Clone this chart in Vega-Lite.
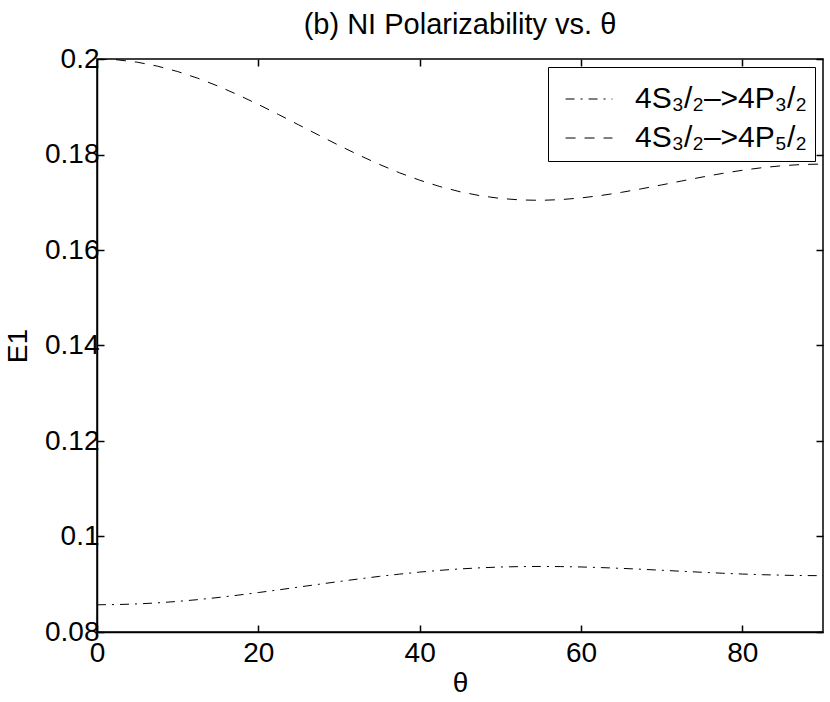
{
  "$schema": "https://vega.github.io/schema/vega-lite/v6.json",
  "width": 726,
  "height": 573,
  "autosize": {"type": "none"},
  "padding": {"left": 97, "top": 59, "right": 7, "bottom": 70},
  "background": "white",
  "title": {"text": "(b) NI Polarizability vs. θ", "font": "Liberation Sans", "fontSize": 29, "fontWeight": "normal", "color": "black", "anchor": "middle", "baseline": "alphabetic", "offset": -18, "frame": "group"},
  "datasets": {
    "curves": [
      {"series": "P32", "theta": 0, "E1": 0.0857}, {"series": "P32", "theta": 2.5, "E1": 0.08575}, {"series": "P32", "theta": 5, "E1": 0.08588}, {"series": "P32", "theta": 7.5, "E1": 0.0861}, {"series": "P32", "theta": 10, "E1": 0.08641}, {"series": "P32", "theta": 12.5, "E1": 0.08678}, {"series": "P32", "theta": 15, "E1": 0.08722}, {"series": "P32", "theta": 17.5, "E1": 0.08772}, {"series": "P32", "theta": 20, "E1": 0.08826}, {"series": "P32", "theta": 22.5, "E1": 0.08882}, {"series": "P32", "theta": 25, "E1": 0.08941}, {"series": "P32", "theta": 27.5, "E1": 0.08999}, {"series": "P32", "theta": 30, "E1": 0.09057}, {"series": "P32", "theta": 32.5, "E1": 0.09112}, {"series": "P32", "theta": 35, "E1": 0.09165}, {"series": "P32", "theta": 37.5, "E1": 0.09212}, {"series": "P32", "theta": 40, "E1": 0.09255}, {"series": "P32", "theta": 42.5, "E1": 0.09291}, {"series": "P32", "theta": 45, "E1": 0.09321}, {"series": "P32", "theta": 47.5, "E1": 0.09344}, {"series": "P32", "theta": 50, "E1": 0.09361}, {"series": "P32", "theta": 52.5, "E1": 0.0937}, {"series": "P32", "theta": 55, "E1": 0.09373}, {"series": "P32", "theta": 57.5, "E1": 0.0937}, {"series": "P32", "theta": 60, "E1": 0.09362}, {"series": "P32", "theta": 62.5, "E1": 0.09349}, {"series": "P32", "theta": 65, "E1": 0.09333}, {"series": "P32", "theta": 67.5, "E1": 0.09314}, {"series": "P32", "theta": 70, "E1": 0.09293}, {"series": "P32", "theta": 72.5, "E1": 0.09272}, {"series": "P32", "theta": 75, "E1": 0.09251}, {"series": "P32", "theta": 77.5, "E1": 0.09231}, {"series": "P32", "theta": 80, "E1": 0.09214}, {"series": "P32", "theta": 82.5, "E1": 0.092}, {"series": "P32", "theta": 85, "E1": 0.09189}, {"series": "P32", "theta": 87.5, "E1": 0.09182}, {"series": "P32", "theta": 90, "E1": 0.0918},
      {"series": "P52", "theta": 0, "E1": 0.2}, {"series": "P52", "theta": 2.5, "E1": 0.19983}, {"series": "P52", "theta": 5, "E1": 0.19933}, {"series": "P52", "theta": 7.5, "E1": 0.1985}, {"series": "P52", "theta": 10, "E1": 0.19737}, {"series": "P52", "theta": 12.5, "E1": 0.19597}, {"series": "P52", "theta": 15, "E1": 0.19433}, {"series": "P52", "theta": 17.5, "E1": 0.19248}, {"series": "P52", "theta": 20, "E1": 0.19048}, {"series": "P52", "theta": 22.5, "E1": 0.18838}, {"series": "P52", "theta": 25, "E1": 0.18621}, {"series": "P52", "theta": 27.5, "E1": 0.18404}, {"series": "P52", "theta": 30, "E1": 0.1819}, {"series": "P52", "theta": 32.5, "E1": 0.17985}, {"series": "P52", "theta": 35, "E1": 0.17793}, {"series": "P52", "theta": 37.5, "E1": 0.17617}, {"series": "P52", "theta": 40, "E1": 0.17462}, {"series": "P52", "theta": 42.5, "E1": 0.17329}, {"series": "P52", "theta": 45, "E1": 0.1722}, {"series": "P52", "theta": 47.5, "E1": 0.17137}, {"series": "P52", "theta": 50, "E1": 0.1708}, {"series": "P52", "theta": 52.5, "E1": 0.17048}, {"series": "P52", "theta": 55, "E1": 0.1704}, {"series": "P52", "theta": 57.5, "E1": 0.17055}, {"series": "P52", "theta": 60, "E1": 0.1709}, {"series": "P52", "theta": 62.5, "E1": 0.17142}, {"series": "P52", "theta": 65, "E1": 0.17207}, {"series": "P52", "theta": 67.5, "E1": 0.17282}, {"series": "P52", "theta": 70, "E1": 0.17363}, {"series": "P52", "theta": 72.5, "E1": 0.17446}, {"series": "P52", "theta": 75, "E1": 0.17527}, {"series": "P52", "theta": 77.5, "E1": 0.17603}, {"series": "P52", "theta": 80, "E1": 0.1767}, {"series": "P52", "theta": 82.5, "E1": 0.17725}, {"series": "P52", "theta": 85, "E1": 0.17766}, {"series": "P52", "theta": 87.5, "E1": 0.17791}, {"series": "P52", "theta": 90, "E1": 0.178}
    ]
  },
  "data": {"name": "curves"},
  "layer": [
    {
      "mark": {"type": "line", "color": "black", "strokeWidth": 1, "clip": true},
      "encoding": {
        "x": {"field": "theta", "type": "quantitative", "scale": {"domain": [0, 90], "nice": false, "zero": false},
              "axis": {"orient": "bottom", "values": [0, 20, 40, 60, 80], "title": "θ", "labelPadding": 14, "titlePadding": 2}},
        "y": {"field": "E1", "type": "quantitative", "scale": {"domain": [0.08, 0.2], "nice": false, "zero": false},
              "axis": {"orient": "left", "values": [0.08, 0.1, 0.12, 0.14, 0.16, 0.18, 0.2], "format": "~g", "title": "E1", "labelPadding": 5, "titlePadding": 12}},
        "strokeDash": {"field": "series", "type": "nominal",
              "scale": {"domain": ["P32", "P52"], "range": [[9, 6, 2, 6], [10, 9]]},
              "legend": {"orient": "none", "legendX": 451, "legendY": 8, "title": null,
                         "labelExpr": "datum.label == 'P32' ? '4S₃/₂–>4P₃/₂\u00a0' : '4S₃/₂–>4P₅/₂\u00a0'"}}
      }
    },
    {
      "mark": {"type": "point", "opacity": 0},
      "encoding": {
        "x": {"field": "theta", "type": "quantitative", "axis": {"orient": "top", "values": [0, 20, 40, 60, 80], "labels": false, "title": null, "domain": false}},
        "y": {"field": "E1", "type": "quantitative", "axis": {"orient": "right", "values": [0.08, 0.1, 0.12, 0.14, 0.16, 0.18, 0.2], "labels": false, "title": null, "domain": false}}
      }
    }
  ],
  "config": {
    "view": {"stroke": "black", "strokeWidth": 1.5},
    "axis": {
      "grid": false,
      "labelFont": "Liberation Sans", "labelFontSize": 28, "labelColor": "black",
      "titleFont": "Liberation Sans", "titleFontSize": 28, "titleFontWeight": "normal", "titleColor": "black",
      "tickColor": "black", "tickSize": -7, "tickWidth": 1.5,
      "domainColor": "black", "domainWidth": 1.5,
      "labelFlush": false, "labelOverlap": false
    },
    "legend": {
      "labelFont": "Liberation Sans", "labelFontSize": 30, "labelColor": "black", "labelLimit": 400,
      "symbolType": "stroke", "symbolSize": 2200, "symbolStrokeWidth": 1, "symbolStrokeColor": "black", "symbolOffset": 9,
      "fillColor": "white", "strokeColor": "black", "padding": 8, "rowPadding": 0, "labelOffset": 22
    }
  }
}
